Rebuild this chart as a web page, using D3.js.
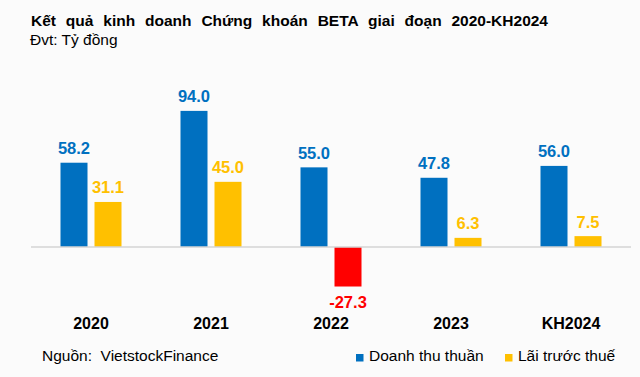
<!DOCTYPE html>
<html>
<head>
<meta charset="utf-8">
<script src="https://cdn.jsdelivr.net/npm/d3@7"></script>
<style>
  body { margin: 0; background: #fbfbfb; }
  svg { display: block; font-family: "Liberation Sans", Arial, sans-serif; }
</style>
</head>
<body>
<div id="chart"></div>
<script>
// data
const years = ["2020", "2021", "2022", "2023", "KH2024"];
const revenue = [58.2, 94.0, 55.0, 47.8, 56.0];   // Doanh thu thuần
const profit = [31.1, 45.0, -27.3, 6.3, 7.5];     // Lãi trước thuế
const seriesNames = ["Doanh thu thuần", "Lãi trước thuế"];

const width = 640, height = 377;
const blue = "#0070c0", yellow = "#ffc000", red = "#ff0000";

const svg = d3.select("#chart").append("svg")
    .attr("width", width)
    .attr("height", height);

svg.append("rect").attr("width", width).attr("height", height).attr("fill", "#fbfbfb");

const x0 = d3.scaleBand().domain(years).range([31, 631]);
const x1 = d3.scaleBand().domain(seriesNames).range([-30.5, 30.5]).paddingInner(7 / 34);
const y = d3.scaleLinear().domain([-40, 100]).range([304.9, 102.2]);

const rows = years.map((yr, i) => ({
    year: yr,
    values: [
        { key: seriesNames[0], v: revenue[i], color: blue },
        { key: seriesNames[1], v: profit[i], color: profit[i] < 0 ? red : yellow }
    ]
}));

const g = svg.append("g");

const groups = g.selectAll("g.grp")
    .data(rows)
    .join("g")
    .attr("class", "grp")
    .attr("transform", d => `translate(${x0(d.year) + x0.bandwidth() / 2},0)`);

groups.selectAll("rect")
    .data(d => d.values)
    .join("rect")
    .attr("x", d => x1(d.key))
    .attr("width", x1.bandwidth())
    .attr("y", d => y(Math.max(0, d.v)))
    .attr("height", d => Math.abs(y(d.v) - y(0)))
    .attr("fill", d => d.color);

groups.selectAll("text.val")
    .data(d => d.values)
    .join("text")
    .attr("class", "val")
    .attr("x", d => x1(d.key) + x1.bandwidth() / 2)
    .attr("y", d => d.v >= 0 ? y(d.v) - 8.5 : y(d.v) + 21)
    .attr("text-anchor", "middle")
    .attr("font-size", "16.5px")
    .attr("font-weight", "bold")
    .attr("fill", d => d.color)
    .text(d => d.v.toFixed(1));

// zero line
g.append("line")
    .attr("x1", 31).attr("x2", 631)
    .attr("y1", y(0)).attr("y2", y(0))
    .attr("stroke", "#d4d4d4")
    .attr("stroke-width", 1.5);

// category labels
svg.append("g")
    .selectAll("text")
    .data(years)
    .join("text")
    .attr("x", d => x0(d) + x0.bandwidth() / 2)
    .attr("y", 329)
    .attr("text-anchor", "middle")
    .attr("font-size", "16px")
    .attr("font-weight", "bold")
    .attr("fill", "#000")
    .text(d => d);

// title
const title = svg.append("text")
    .attr("x", 31).attr("y", 26)
    .attr("font-size", "15.5px")
    .attr("font-weight", "bold")
    .attr("fill", "#000")
    .text("Kết quả kinh doanh Chứng khoán BETA giai đoạn 2020-KH2024");
const tw = title.node().getComputedTextLength();
const gaps = title.text().split(" ").length - 1;
title.attr("word-spacing", ((517 - tw) / gaps) + "px");

svg.append("text")
    .attr("x", 30).attr("y", 45)
    .attr("font-size", "15.5px")
    .attr("fill", "#000")
    .text("Đvt: Tỷ đồng");

// source
svg.append("text")
    .attr("x", 42).attr("y", 361)
    .attr("font-size", "15.5px")
    .attr("fill", "#000")
    .style("white-space", "pre")
    .text("Nguồn:  VietstockFinance");

// legend
const legend = svg.append("g")
    .selectAll("g")
    .data([{ name: seriesNames[0], color: blue, x: 356 }, { name: seriesNames[1], color: yellow, x: 505 }])
    .join("g")
    .attr("transform", d => `translate(${d.x},0)`);

legend.append("rect")
    .attr("y", 354).attr("width", 7.5).attr("height", 7.5)
    .attr("fill", d => d.color);

legend.append("text")
    .attr("x", 13).attr("y", 361)
    .attr("font-size", "15.5px")
    .attr("fill", "#000")
    .text(d => d.name);
</script>
</body>
</html>
